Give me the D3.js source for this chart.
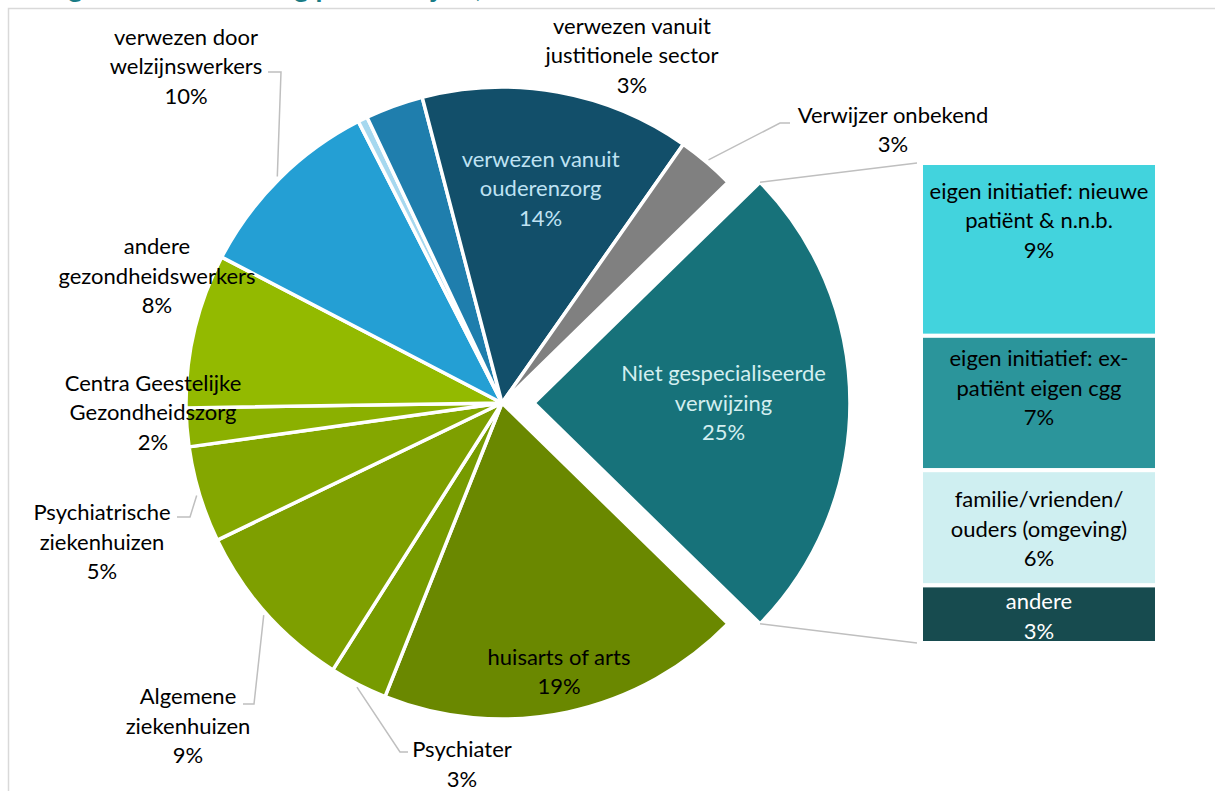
<!DOCTYPE html>
<html>
<head>
<meta charset="utf-8">
<script src="https://cdn.jsdelivr.net/npm/d3@7"></script>
<style>
  html, body { margin: 0; padding: 0; background: #fff; overflow: hidden; }
  svg { display: block; }
  text { font-family: Lato, "Open Sans", sans-serif; }
</style>
</head>
<body>
<svg id="chart" width="1215" height="791"></svg>
<script>
// Referral sources (share of registrations, %)
const pieCategories = [
  "Niet gespecialiseerde verwijzing",
  "huisarts of arts",
  "Psychiater",
  "Algemene ziekenhuizen",
  "Psychiatrische ziekenhuizen",
  "Centra Geestelijke Gezondheidszorg",
  "andere gezondheidswerkers",
  "verwezen door welzijnswerkers",
  "overige",
  "verwezen vanuit justitionele sector",
  "verwezen vanuit ouderenzorg",
  "Verwijzer onbekend"
];
const pieValues = [25, 19, 3, 9, 5, 2, 8, 10, 0.5, 3, 14, 3];
const pieLabelLines = [
  ["Niet gespecialiseerde", "verwijzing"],
  ["huisarts of arts"],
  ["Psychiater"],
  ["Algemene", "ziekenhuizen"],
  ["Psychiatrische", "ziekenhuizen"],
  ["Centra Geestelijke", "Gezondheidszorg"],
  ["andere", "gezondheidswerkers"],
  ["verwezen door", "welzijnswerkers"],
  [],
  ["verwezen vanuit", "justitionele sector"],
  ["verwezen vanuit", "ouderenzorg"],
  ["Verwijzer onbekend"]
];

// Breakdown of the non-specialised referrals (stacked bar)
const barCategories = [
  "eigen initiatief: nieuwe patiënt & n.n.b.",
  "eigen initiatief: ex-patiënt eigen cgg",
  "familie/vrienden/ouders (omgeving)",
  "andere"
];
const barValues = [9, 7, 6, 3];
const barLabelLines = [
  ["eigen initiatief: nieuwe", "patiënt & n.n.b."],
  ["eigen initiatief: ex-", "patiënt eigen cgg"],
  ["familie/vrienden/", "ouders (omgeving)"],
  ["andere"]
];

const titleText = "Figuur 3: Aanmelding per verwijzer, 2019";

// ---- styling ----
const pieColors = ["#17727a", "#6a8800", "#779b00", "#7e9f00", "#84a700", "#8bb000", "#93ba00",
                   "#249fd4", "#a6d8ef", "#1f7ead", "#124f6a", "#808080"];
const barColors = ["#42d3dd", "#2b959b", "#cfeff1", "#174b4f"];
const barTextColors = ["#000", "#000", "#000", "#fff"];

const svg = d3.select("#chart");
const FONT = 22, LH = 29.5;

// frame + heading running off the top edge
svg.append("text").attr("x", 45).attr("y", -3)
  .attr("fill", "#1a7c86").attr("font-weight", "bold").attr("font-size", 28)
  .text(titleText);
svg.append("rect").attr("x", 8.5).attr("y", 8.5).attr("width", 1400).attr("height", 1000)
  .attr("fill", "none").attr("stroke", "#d9d9d9").attr("stroke-width", 1.5);

// ---- pie ----
const cx = 502, cy = 403, R = 316, explode = 32;
const total = d3.sum(pieValues);
const firstSpan = 2 * Math.PI * pieValues[0] / total;
const start = Math.PI / 2 - firstSpan / 2;
const pie = d3.pie().sort(null).startAngle(start).endAngle(start + 2 * Math.PI);
const arcs = pie(pieValues);
const arc = d3.arc().innerRadius(0).outerRadius(R);

const offsetOf = (d, i) => {
  if (i !== 0) return [0, 0];
  const m = (d.startAngle + d.endAngle) / 2;
  return [explode * Math.sin(m), -explode * Math.cos(m)];
};

const g = svg.append("g").attr("transform", `translate(${cx},${cy})`);
g.selectAll("path.slice").data(arcs).join("path")
  .attr("class", "slice")
  .attr("transform", (d, i) => { const o = offsetOf(d, i); return `translate(${o[0]},${o[1]})`; })
  .attr("d", arc)
  .attr("fill", (d, i) => pieColors[i])
  .attr("stroke", "#fff").attr("stroke-width", 3.5).attr("stroke-linejoin", "round");

// ---- bar ----
const barX = 921, barW = 236;
const y = d3.scaleLinear().domain([0, d3.sum(barValues)]).range([163, 643]);
const cum = d3.cumsum(barValues);
const segs = barValues.map((v, i) => ({ v, i, y0: cum[i] - v, y1: cum[i] }));
svg.selectAll("rect.seg").data(segs).join("rect")
  .attr("class", "seg")
  .attr("x", barX).attr("width", barW)
  .attr("y", d => y(d.y0)).attr("height", d => y(d.y1) - y(d.y0))
  .attr("fill", d => barColors[d.i])
  .attr("stroke", "#fff").attr("stroke-width", 4);

// connector lines from the detached slice to the bar
const d0 = arcs[0], o0 = offsetOf(d0, 0);
const corner = a => [cx + o0[0] + R * Math.sin(a), cy + o0[1] - R * Math.cos(a)];
const cTop = corner(d0.startAngle), cBot = corner(d0.endAngle);
svg.append("line").attr("x1", cTop[0]).attr("y1", cTop[1]).attr("x2", barX - 4).attr("y2", y(0))
  .attr("stroke", "#bfbfbf").attr("stroke-width", 1.5);
svg.append("line").attr("x1", cBot[0]).attr("y1", cBot[1]).attr("x2", barX - 4).attr("y2", y(d3.sum(barValues)))
  .attr("stroke", "#bfbfbf").attr("stroke-width", 1.5);

// ---- labels ----
function block(x, yc, lines, color) {
  const t = svg.append("text").attr("text-anchor", "middle").attr("font-size", FONT).attr("fill", color);
  const y0 = yc - (lines.length - 1) * LH / 2;
  lines.forEach((s, k) => t.append("tspan").attr("x", x).attr("y", y0 + k * LH).attr("dy", "0.35em").text(s));
}

// label placement: inside labels sit on the slice bisector at a fraction of the radius,
// outside labels get an anchor point and an optional elbowed leader line
const labelLayout = [
  { inside: 0.6, color: "#d3eef0" },
  { inside: 0.87, color: "#000" },
  { at: [462, 764.5], leader: [[400, 752], [408, 752]] },
  { at: [188, 726], leader: [[254, 704], [243, 704]] },
  { at: [102, 542], leader: [[190, 517], [177, 517]] },
  { at: [153, 412.5] },
  { at: [157, 276] },
  { at: [186, 66.5], leader: [[281, 72], [268, 72]] },
  null,
  { at: [632, 55.5] },
  { inside: 0.69, color: "#bfe2f3" },
  { at: [893, 130], leader: [[780, 123], [790, 123]] }
];

arcs.forEach((d, i) => {
  const L = labelLayout[i];
  if (!L) return;
  const lines = pieLabelLines[i].concat([pieValues[i] + "%"]);
  const o = offsetOf(d, i);
  if (L.inside) {
    const c = d3.arc().innerRadius(R * L.inside).outerRadius(R * L.inside).centroid(d);
    block(cx + o[0] + c[0], cy + o[1] + c[1], lines, L.color);
  } else {
    if (L.leader) {
      const m = (d.startAngle + d.endAngle) / 2;
      const p0 = [cx + (R + 3) * Math.sin(m), cy - (R + 3) * Math.cos(m)];
      svg.append("path")
        .attr("d", d3.line()([p0].concat(L.leader)))
        .attr("fill", "none").attr("stroke", "#bfbfbf").attr("stroke-width", 1.5);
    }
    block(L.at[0], L.at[1], lines, "#000");
  }
});

const barLabelShift = [-29, -15, 1, 2];
segs.forEach(s => {
  const lines = barLabelLines[s.i].concat([s.v + "%"]);
  const yc = (y(s.y0) + y(s.y1)) / 2 + barLabelShift[s.i];
  block(barX + barW / 2, yc, lines, barTextColors[s.i]);
});
</script>
</body>
</html>
